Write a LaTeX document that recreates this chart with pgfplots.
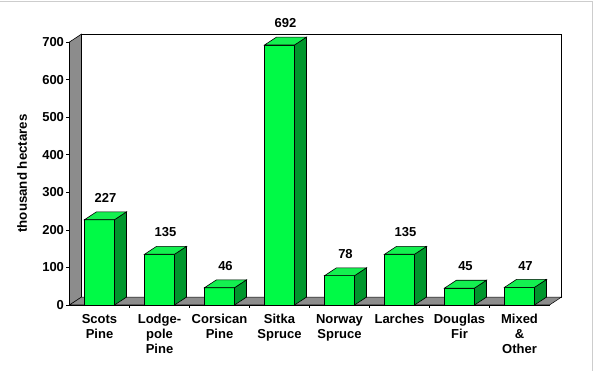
\documentclass[border=0pt]{standalone}
\usepackage{fontspec}
\setmainfont{Liberation Sans}
\usepackage{pgfplots}
\usepackage{pgfplotstable}
\pgfplotsset{compat=1.18}
\definecolor{barfront}{RGB}{0,250,70}
\definecolor{barside}{RGB}{0,150,45}
\definecolor{bartop}{RGB}{20,240,80}
\definecolor{wallgray}{RGB}{140,140,140}
\definecolor{framegray}{RGB}{205,205,205}
\pgfplotstableread{
x v
0 227
1 135
2 46
3 692
4 78
5 135
6 45
7 47
}\datatable
\begin{document}
\begin{tikzpicture}
\begin{axis}[
  at={(69.5pt,66pt)}, anchor=south west,
  scale only axis, width=480pt, height=263pt,
  xmin=-0.5, xmax=7.5, ymin=0, ymax=700,
  clip=false,
  axis on top,
  axis lines*=left,
  axis line style={black, line width=0.8pt},
  ytick={0,100,...,700},
  xtick={0.5,1.5,...,6.5}, xticklabels={},
  extra x ticks={0,...,7},
  extra x tick labels={{Scots\\Pine},{Lodge-\\pole\\Pine},{Corsican\\Pine},{Sitka\\Spruce},{Norway\\Spruce},{Larches},{Douglas\\Fir},{Mixed\\\&\\Other}},
  extra x tick style={major tick length=0pt},
  tick align=outside, major tick length=3pt,
  tick style={black, line width=0.6pt},
  ticklabel style={font=\bfseries\fontsize{13}{15}\selectfont},
  yticklabel style={xshift=1pt},
  xticklabel style={align=center, anchor=north, yshift=-6pt},
  /pgf/number format/assume math mode=true,
  ylabel={thousand hectares},
  every axis y label/.style={at={(rel axis cs:0,0.5)}, rotate=90, anchor=center, yshift=47.5pt, font=\bfseries\fontsize{13.3}{15}\selectfont},
]
% back wall
\addplot[fill=white, draw=black, line width=0.6pt] coordinates {(-0.3,21) (7.7,21) (7.7,721) (-0.3,721)} -- cycle;
% left wall
\addplot[fill=wallgray, draw=black, line width=0.6pt] coordinates {(-0.5,0) (-0.3,21) (-0.3,721) (-0.5,700)} -- cycle;
% floor
\addplot[fill=wallgray, draw=black, line width=0.5pt] coordinates {(-0.5,0) (7.5,0) (7.7,21) (-0.3,21)} -- cycle;
% bar fronts
\addplot[ybar, bar width=0.5, fill=barfront, draw=black, line width=0.6pt] table[x=x, y=v] {\datatable};
% bar sides and tops
\pgfplotsinvokeforeach{0,...,7}{
  \pgfplotstablegetelem{#1}{v}\of\datatable
  \pgfmathsetmacro\vv{\pgfplotsretval}
  \pgfmathsetmacro\vb{\pgfplotsretval+21}
  \pgfmathsetmacro\xl{#1-0.25}
  \pgfmathsetmacro\xr{#1+0.25}
  \pgfmathsetmacro\xrb{#1+0.45}
  \pgfmathsetmacro\xlb{#1-0.05}
  \edef\temp{%
    \noexpand\addplot[fill=barside, draw=black, line width=0.6pt] coordinates {(\xr,0) (\xrb,21) (\xrb,\vb) (\xr,\vv)} -- cycle;
    \noexpand\addplot[fill=bartop, draw=black, line width=0.6pt] coordinates {(\xl,\vv) (\xr,\vv) (\xrb,\vb) (\xlb,\vb)} -- cycle;
  }\temp
}
% value labels
\addplot[draw=none, mark=none, point meta=\thisrow{v}, nodes near coords,
  nodes near coords style={anchor=center, black, font=\bfseries\fontsize{13}{15}\selectfont}]
  table[x expr=\thisrow{x}+0.1, y expr=\thisrow{v}+58] {\datatable};
\end{axis}
\draw[framegray, line width=1pt] (0,369.5pt) -- (592.5pt,369.5pt) -- (592.5pt,0);
\pgfresetboundingbox
\path[use as bounding box] (0,0) rectangle (596pt,371pt);
\end{tikzpicture}
\end{document}
